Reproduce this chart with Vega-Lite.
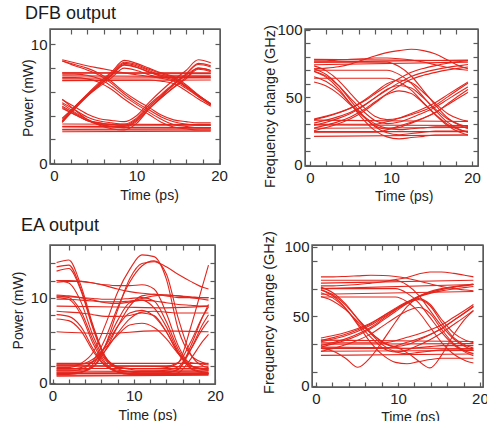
{
"$schema":"https://vega.github.io/schema/vega-lite/v6.json",
"padding":{"left":10,"top":4,"right":0,"bottom":0},
"bounds":"flush",
"spacing":216,
"config":{
"font":"Liberation Sans",
"view":{"stroke":"#5a5a5a","strokeWidth":1},
"axis":{"grid":false,"domain":false,"ticks":true,"tickColor":"#5a5a5a","tickSize":-5,"tickWidth":1.2,"labelFont":"Liberation Sans","labelFontSize":15,"labelColor":"#222222","labelPadding":8,"labelOverlap":false,"labelBound":false,"labelFlush":false,"titleFont":"Liberation Sans","titleFontSize":14,"titleFontWeight":"normal","titleColor":"#222222","titleBaseline":"alphabetic","titleAlign":"center"},
"axisBottom":{"labelPadding":9},
"title":{"font":"Liberation Sans","fontSize":18,"fontWeight":"normal","color":"#1a1a1a","anchor":"start","frame":"group","baseline":"alphabetic"}
},
"datasets":{
"dfbP":[
{"k":1,"x":1,"y":2.65},{"k":1,"x":19,"y":2.7},
{"k":2,"x":1,"y":2.85},{"k":2,"x":19,"y":2.9},
{"k":3,"x":1,"y":3.05},{"k":3,"x":19,"y":3.0},
{"k":4,"x":1,"y":3.3},{"k":4,"x":19,"y":3.25},
{"k":5,"x":1,"y":7.6},{"k":5,"x":19,"y":7.55},
{"k":6,"x":1,"y":7.35},{"k":6,"x":19,"y":7.3},
{"k":7,"x":1,"y":7.15},{"k":7,"x":19,"y":7.2},
{"k":8,"x":1,"y":6.95},{"k":8,"x":19,"y":7.0},
{"k":9,"x":1,"y":5.4},{"k":9,"x":2.5,"y":4.5},{"k":9,"x":4,"y":3.7},{"k":9,"x":5.5,"y":3.2},{"k":9,"x":7,"y":2.9},{"k":9,"x":8.5,"y":2.8},{"k":9,"x":19,"y":2.8},
{"k":10,"x":1,"y":4.6},{"k":10,"x":2.5,"y":4.1},{"k":10,"x":4,"y":3.6},{"k":10,"x":5.5,"y":3.4},{"k":10,"x":7,"y":3.25},{"k":10,"x":8.5,"y":3.2},{"k":10,"x":19,"y":3.2},
{"k":11,"x":1,"y":5.0},{"k":11,"x":2.5,"y":4.3},{"k":11,"x":4,"y":3.7},{"k":11,"x":5.5,"y":3.3},{"k":11,"x":7,"y":3.1},{"k":11,"x":8.5,"y":3.0},{"k":11,"x":19,"y":3.0},
{"k":12,"x":1,"y":5.1},{"k":12,"x":2.5,"y":4.5},{"k":12,"x":4,"y":3.9},{"k":12,"x":5.5,"y":3.55},{"k":12,"x":7,"y":3.4},{"k":12,"x":8.5,"y":3.3},{"k":12,"x":10,"y":3.8},{"k":12,"x":11.5,"y":4.9},{"k":12,"x":13,"y":5.8},{"k":12,"x":14.5,"y":6.7},{"k":12,"x":16,"y":7.5},{"k":12,"x":17.5,"y":8.3},{"k":12,"x":19,"y":8.1},
{"k":13,"x":1,"y":4.8},{"k":13,"x":2.5,"y":4.2},{"k":13,"x":4,"y":3.6},{"k":13,"x":5.5,"y":3.25},{"k":13,"x":7,"y":3.1},{"k":13,"x":8.5,"y":3.0},{"k":13,"x":10,"y":3.5},{"k":13,"x":11.5,"y":4.55},{"k":13,"x":13,"y":5.5},{"k":13,"x":14.5,"y":6.4},{"k":13,"x":16,"y":7.2},{"k":13,"x":17.5,"y":8.0},{"k":13,"x":19,"y":7.8},
{"k":14,"x":1,"y":5.35},{"k":14,"x":2.5,"y":4.75},{"k":14,"x":4,"y":4.15},{"k":14,"x":5.5,"y":3.75},{"k":14,"x":7,"y":3.6},{"k":14,"x":8.5,"y":3.5},{"k":14,"x":10,"y":4.0},{"k":14,"x":11.5,"y":5.1},{"k":14,"x":13,"y":6.1},{"k":14,"x":14.5,"y":7.0},{"k":14,"x":16,"y":7.8},{"k":14,"x":17.5,"y":8.7},{"k":14,"x":19,"y":8.45},
{"k":15,"x":1,"y":4.7},{"k":15,"x":2.5,"y":4.1},{"k":15,"x":4,"y":3.6},{"k":15,"x":5.5,"y":3.4},{"k":15,"x":7,"y":3.25},{"k":15,"x":8.5,"y":3.2},{"k":15,"x":10,"y":3.7},{"k":15,"x":11.5,"y":4.75},{"k":15,"x":13,"y":5.7},{"k":15,"x":14.5,"y":6.6},{"k":15,"x":16,"y":7.4},{"k":15,"x":17.5,"y":8.0},{"k":15,"x":19,"y":7.8},
{"k":16,"x":1,"y":2.8},{"k":16,"x":8.5,"y":2.8},{"k":16,"x":10,"y":3.35},{"k":16,"x":11.5,"y":4.55},{"k":16,"x":13,"y":5.6},{"k":16,"x":14.5,"y":6.6},{"k":16,"x":16,"y":7.5},{"k":16,"x":17.5,"y":8.4},{"k":16,"x":19,"y":8.2},
{"k":17,"x":1,"y":3.1},{"k":17,"x":8.5,"y":3.1},{"k":17,"x":10,"y":3.6},{"k":17,"x":11.5,"y":4.6},{"k":17,"x":13,"y":5.5},{"k":17,"x":14.5,"y":6.35},{"k":17,"x":16,"y":7.1},{"k":17,"x":17.5,"y":7.9},{"k":17,"x":19,"y":7.7},
{"k":18,"x":1,"y":3.55},{"k":18,"x":2.5,"y":4.7},{"k":18,"x":4,"y":5.75},{"k":18,"x":5.5,"y":6.7},{"k":18,"x":7,"y":7.6},{"k":18,"x":8.5,"y":8.5},{"k":18,"x":10,"y":8.3},{"k":18,"x":11.5,"y":7.9},{"k":18,"x":13,"y":7.6},{"k":18,"x":19,"y":7.6},
{"k":19,"x":1,"y":3.8},{"k":19,"x":2.5,"y":4.75},{"k":19,"x":4,"y":5.65},{"k":19,"x":5.5,"y":6.45},{"k":19,"x":7,"y":7.2},{"k":19,"x":8.5,"y":8.0},{"k":19,"x":10,"y":7.8},{"k":19,"x":11.5,"y":7.45},{"k":19,"x":13,"y":7.2},{"k":19,"x":19,"y":7.2},
{"k":20,"x":1,"y":3.45},{"k":20,"x":2.5,"y":4.55},{"k":20,"x":4,"y":5.6},{"k":20,"x":5.5,"y":6.55},{"k":20,"x":7,"y":7.4},{"k":20,"x":8.5,"y":8.3},{"k":20,"x":10,"y":8.1},{"k":20,"x":11.5,"y":7.7},{"k":20,"x":13,"y":7.4},{"k":20,"x":19,"y":7.4},
{"k":21,"x":1,"y":3.55},{"k":21,"x":2.5,"y":4.75},{"k":21,"x":4,"y":5.8},{"k":21,"x":5.5,"y":6.8},{"k":21,"x":7,"y":7.7},{"k":21,"x":8.5,"y":8.65},{"k":21,"x":10,"y":8.4},{"k":21,"x":11.5,"y":8.0},{"k":21,"x":13,"y":7.6},{"k":21,"x":14.5,"y":7.3},{"k":21,"x":16,"y":6.6},{"k":21,"x":17.5,"y":5.75},{"k":21,"x":19,"y":5.0},
{"k":22,"x":1,"y":3.7},{"k":22,"x":2.5,"y":4.75},{"k":22,"x":4,"y":5.7},{"k":22,"x":5.5,"y":6.6},{"k":22,"x":7,"y":7.4},{"k":22,"x":8.5,"y":8.25},{"k":22,"x":10,"y":8.05},{"k":22,"x":11.5,"y":7.65},{"k":22,"x":13,"y":7.3},{"k":22,"x":14.5,"y":7.0},{"k":22,"x":16,"y":6.45},{"k":22,"x":17.5,"y":5.7},{"k":22,"x":19,"y":5.0},
{"k":23,"x":1,"y":3.45},{"k":23,"x":2.5,"y":4.6},{"k":23,"x":4,"y":5.65},{"k":23,"x":5.5,"y":6.6},{"k":23,"x":7,"y":7.5},{"k":23,"x":8.5,"y":8.4},{"k":23,"x":10,"y":8.2},{"k":23,"x":11.5,"y":7.8},{"k":23,"x":13,"y":7.4},{"k":23,"x":14.5,"y":7.1},{"k":23,"x":16,"y":6.4},{"k":23,"x":17.5,"y":5.6},{"k":23,"x":19,"y":4.9},
{"k":24,"x":1,"y":7.5},{"k":24,"x":2.5,"y":7.5},{"k":24,"x":4,"y":7.4},{"k":24,"x":5.5,"y":7.1},{"k":24,"x":7,"y":6.45},{"k":24,"x":8.5,"y":5.65},{"k":24,"x":10,"y":4.95},{"k":24,"x":11.5,"y":4.3},{"k":24,"x":13,"y":3.7},{"k":24,"x":14.5,"y":3.25},{"k":24,"x":16,"y":3.1},{"k":24,"x":17.5,"y":3.0},{"k":24,"x":19,"y":3.0},
{"k":25,"x":1,"y":7.2},{"k":25,"x":2.5,"y":7.2},{"k":25,"x":4,"y":7.1},{"k":25,"x":5.5,"y":6.8},{"k":25,"x":7,"y":6.2},{"k":25,"x":8.5,"y":5.4},{"k":25,"x":10,"y":4.7},{"k":25,"x":11.5,"y":4.1},{"k":25,"x":13,"y":3.45},{"k":25,"x":14.5,"y":3.05},{"k":25,"x":16,"y":2.9},{"k":25,"x":17.5,"y":2.8},{"k":25,"x":19,"y":2.8},
{"k":26,"x":1,"y":8.6},{"k":26,"x":2.5,"y":8.2},{"k":26,"x":4,"y":7.85},{"k":26,"x":5.5,"y":7.4},{"k":26,"x":7,"y":6.7},{"k":26,"x":8.5,"y":5.85},{"k":26,"x":10,"y":5.1},{"k":26,"x":11.5,"y":4.5},{"k":26,"x":13,"y":3.9},{"k":26,"x":14.5,"y":3.5},{"k":26,"x":16,"y":3.3},{"k":26,"x":17.5,"y":3.2},{"k":26,"x":19,"y":3.2},
{"k":27,"x":1,"y":8.6},{"k":27,"x":2.5,"y":8.3},{"k":27,"x":4,"y":8.0},{"k":27,"x":5.5,"y":7.55},{"k":27,"x":7,"y":6.85},{"k":27,"x":8.5,"y":6.0},{"k":27,"x":10,"y":5.3},{"k":27,"x":11.5,"y":4.7},{"k":27,"x":13,"y":4.05},{"k":27,"x":14.5,"y":3.65},{"k":27,"x":16,"y":3.5},{"k":27,"x":17.5,"y":3.4},{"k":27,"x":19,"y":3.4},
{"k":28,"x":1,"y":7.6},{"k":28,"x":11.5,"y":7.6},{"k":28,"x":13,"y":7.5},{"k":28,"x":14.5,"y":7.2},{"k":28,"x":16,"y":6.5},{"k":28,"x":17.5,"y":5.7},{"k":28,"x":19,"y":5.0},
{"k":29,"x":1,"y":7.0},{"k":29,"x":11.5,"y":7.0},{"k":29,"x":13,"y":6.9},{"k":29,"x":14.5,"y":6.7},{"k":29,"x":16,"y":6.1},{"k":29,"x":17.5,"y":5.4},{"k":29,"x":19,"y":4.8},
{"k":30,"x":1,"y":8.7},{"k":30,"x":2.5,"y":8.45},{"k":30,"x":4,"y":8.2},{"k":30,"x":5.5,"y":8.0},{"k":30,"x":7,"y":7.8},{"k":30,"x":8.5,"y":7.6},{"k":30,"x":10,"y":7.45},{"k":30,"x":11.5,"y":7.3},{"k":30,"x":13,"y":7.15},{"k":30,"x":14.5,"y":6.9},{"k":30,"x":16,"y":6.3},{"k":30,"x":17.5,"y":5.6},{"k":30,"x":19,"y":4.9}
],
"dfbF":[
{"k":1,"x":0.5,"y":21},{"k":1,"x":19.5,"y":22},
{"k":2,"x":0.5,"y":24.5},{"k":2,"x":19.5,"y":24.5},
{"k":3,"x":0.5,"y":27},{"k":3,"x":19.5,"y":27.5},
{"k":4,"x":0.5,"y":29.5},{"k":4,"x":19.5,"y":29},
{"k":5,"x":0.5,"y":33},{"k":5,"x":19.5,"y":32},
{"k":6,"x":0.5,"y":74},{"k":6,"x":19.5,"y":76},
{"k":7,"x":0.5,"y":76},{"k":7,"x":19.5,"y":77.5},
{"k":8,"x":0.5,"y":78},{"k":8,"x":19.5,"y":77},
{"k":9,"x":0.5,"y":30.9},{"k":9,"x":2,"y":33.0},{"k":9,"x":3.5,"y":35.6},{"k":9,"x":5,"y":38.9},{"k":9,"x":6.5,"y":43.5},{"k":9,"x":8,"y":49.4},{"k":9,"x":9.5,"y":55.3},{"k":9,"x":11,"y":60.8},{"k":9,"x":12.5,"y":65.4},{"k":9,"x":14,"y":68.3},{"k":9,"x":15.5,"y":70.4},{"k":9,"x":17,"y":72.1},{"k":9,"x":18.5,"y":73.4},{"k":9,"x":19.5,"y":74.2},
{"k":10,"x":0.5,"y":27.1},{"k":10,"x":2,"y":29.3},{"k":10,"x":3.5,"y":31.9},{"k":10,"x":5,"y":35.4},{"k":10,"x":6.5,"y":40.3},{"k":10,"x":8,"y":46.4},{"k":10,"x":9.5,"y":52.6},{"k":10,"x":11,"y":58.3},{"k":10,"x":12.5,"y":63.2},{"k":10,"x":14,"y":66.2},{"k":10,"x":15.5,"y":68.4},{"k":10,"x":17,"y":70.2},{"k":10,"x":18.5,"y":71.5},{"k":10,"x":19.5,"y":72.4},
{"k":11,"x":0.5,"y":33.9},{"k":11,"x":2,"y":36.0},{"k":11,"x":3.5,"y":38.6},{"k":11,"x":5,"y":41.9},{"k":11,"x":6.5,"y":46.5},{"k":11,"x":8,"y":52.4},{"k":11,"x":9.5,"y":58.3},{"k":11,"x":11,"y":63.8},{"k":11,"x":12.5,"y":68.4},{"k":11,"x":14,"y":71.3},{"k":11,"x":15.5,"y":73.4},{"k":11,"x":17,"y":75.1},{"k":11,"x":18.5,"y":76.4},{"k":11,"x":19.5,"y":77.2},
{"k":12,"x":0.5,"y":69.0},{"k":12,"x":2,"y":64.7},{"k":12,"x":3.5,"y":56.6},{"k":12,"x":5,"y":45.0},{"k":12,"x":6.5,"y":34.0},{"k":12,"x":8,"y":25.4},{"k":12,"x":9.5,"y":20.6},{"k":12,"x":11,"y":19.1},{"k":12,"x":12.5,"y":20.1},{"k":12,"x":14,"y":21.0},{"k":12,"x":15.5,"y":22},{"k":12,"x":19.5,"y":22},
{"k":13,"x":0.5,"y":71.1},{"k":13,"x":2,"y":66.8},{"k":13,"x":3.5,"y":58.8},{"k":13,"x":5,"y":47.6},{"k":13,"x":6.5,"y":36.8},{"k":13,"x":8,"y":28.3},{"k":13,"x":9.5,"y":23.6},{"k":13,"x":11,"y":22.2},{"k":13,"x":12.5,"y":23.1},{"k":13,"x":14,"y":24.1},{"k":13,"x":15.5,"y":25},{"k":13,"x":19.5,"y":25},
{"k":14,"x":0.5,"y":61.3},{"k":14,"x":2,"y":58.3},{"k":14,"x":3.5,"y":52.5},{"k":14,"x":5,"y":44.3},{"k":14,"x":6.5,"y":36.5},{"k":14,"x":8,"y":30.4},{"k":14,"x":9.5,"y":27.0},{"k":14,"x":11,"y":26.0},{"k":14,"x":12.5,"y":26.6},{"k":14,"x":14,"y":27.3},{"k":14,"x":15.5,"y":28},{"k":14,"x":19.5,"y":28},
{"k":15,"x":0.5,"y":70},{"k":15,"x":9.5,"y":70},{"k":15,"x":11,"y":66.9},{"k":15,"x":12.5,"y":60.3},{"k":15,"x":14,"y":50.2},{"k":15,"x":15.5,"y":40.1},{"k":15,"x":17,"y":31.3},{"k":15,"x":18.5,"y":26},{"k":15,"x":19.5,"y":23.8},
{"k":16,"x":0.5,"y":76},{"k":16,"x":9.5,"y":76},{"k":16,"x":11,"y":72.7},{"k":16,"x":12.5,"y":65.7},{"k":16,"x":14,"y":54.9},{"k":16,"x":15.5,"y":44.0},{"k":16,"x":17,"y":34.6},{"k":16,"x":18.5,"y":29},{"k":16,"x":19.5,"y":26.7},
{"k":17,"x":0.5,"y":64},{"k":17,"x":9.5,"y":64},{"k":17,"x":11,"y":61.2},{"k":17,"x":12.5,"y":55.2},{"k":17,"x":14,"y":46.0},{"k":17,"x":15.5,"y":36.8},{"k":17,"x":17,"y":28.8},{"k":17,"x":18.5,"y":24},{"k":17,"x":19.5,"y":22},
{"k":18,"x":0.5,"y":69.2},{"k":18,"x":2,"y":65.6},{"k":18,"x":3.5,"y":58.8},{"k":18,"x":5,"y":49.2},{"k":18,"x":6.5,"y":40.0},{"k":18,"x":8,"y":32.8},{"k":18,"x":9.5,"y":30.4},{"k":18,"x":11,"y":31.6},{"k":18,"x":12.5,"y":34.8},{"k":18,"x":14,"y":38.4},{"k":18,"x":15.5,"y":42.8},{"k":18,"x":17,"y":48.4},{"k":18,"x":18.5,"y":54.0},{"k":18,"x":19.5,"y":57.6},
{"k":19,"x":0.5,"y":65.2},{"k":19,"x":2,"y":61.6},{"k":19,"x":3.5,"y":54.8},{"k":19,"x":5,"y":45.2},{"k":19,"x":6.5,"y":36.0},{"k":19,"x":8,"y":28.8},{"k":19,"x":9.5,"y":26.4},{"k":19,"x":11,"y":27.6},{"k":19,"x":12.5,"y":30.8},{"k":19,"x":14,"y":34.4},{"k":19,"x":15.5,"y":38.8},{"k":19,"x":17,"y":44.4},{"k":19,"x":18.5,"y":50.0},{"k":19,"x":19.5,"y":53.6},
{"k":20,"x":0.5,"y":73.2},{"k":20,"x":2,"y":69.5},{"k":20,"x":3.5,"y":62.5},{"k":20,"x":5,"y":52.7},{"k":20,"x":6.5,"y":43.3},{"k":20,"x":8,"y":35.9},{"k":20,"x":9.5,"y":33.4},{"k":20,"x":11,"y":34.6},{"k":20,"x":12.5,"y":37.9},{"k":20,"x":14,"y":41.6},{"k":20,"x":15.5,"y":46.1},{"k":20,"x":17,"y":51.9},{"k":20,"x":18.5,"y":57.6},{"k":20,"x":19.5,"y":61.3},
{"k":21,"x":0.5,"y":29.2},{"k":21,"x":2,"y":31.5},{"k":21,"x":3.5,"y":34.3},{"k":21,"x":5,"y":38.0},{"k":21,"x":6.5,"y":43.0},{"k":21,"x":8,"y":49.5},{"k":21,"x":9.5,"y":55.9},{"k":21,"x":11,"y":58.7},{"k":21,"x":12.5,"y":56.8},{"k":21,"x":14,"y":49.5},{"k":21,"x":15.5,"y":41.2},{"k":21,"x":17,"y":33.8},{"k":21,"x":18.5,"y":29.7},{"k":21,"x":19.5,"y":28.3},
{"k":22,"x":0.5,"y":33.2},{"k":22,"x":2,"y":35.5},{"k":22,"x":3.5,"y":38.3},{"k":22,"x":5,"y":42.0},{"k":22,"x":6.5,"y":47.0},{"k":22,"x":8,"y":53.5},{"k":22,"x":9.5,"y":59.9},{"k":22,"x":11,"y":62.7},{"k":22,"x":12.5,"y":60.8},{"k":22,"x":14,"y":53.5},{"k":22,"x":15.5,"y":45.2},{"k":22,"x":17,"y":37.8},{"k":22,"x":18.5,"y":33.7},{"k":22,"x":19.5,"y":32.3},
{"k":23,"x":0.5,"y":25.2},{"k":23,"x":2,"y":27.5},{"k":23,"x":3.5,"y":30.3},{"k":23,"x":5,"y":34.0},{"k":23,"x":6.5,"y":39.0},{"k":23,"x":8,"y":45.5},{"k":23,"x":9.5,"y":51.9},{"k":23,"x":11,"y":54.7},{"k":23,"x":12.5,"y":52.8},{"k":23,"x":14,"y":45.5},{"k":23,"x":15.5,"y":37.2},{"k":23,"x":17,"y":29.8},{"k":23,"x":18.5,"y":25.7},{"k":23,"x":19.5,"y":24.3},
{"k":24,"x":0.5,"y":24},{"k":24,"x":8,"y":24},{"k":24,"x":9.5,"y":25.8},{"k":24,"x":11,"y":28.6},{"k":24,"x":12.5,"y":31.4},{"k":24,"x":14,"y":34.6},{"k":24,"x":15.5,"y":38.7},{"k":24,"x":17,"y":45.2},{"k":24,"x":18.5,"y":51.6},{"k":24,"x":19.5,"y":55.7},
{"k":25,"x":0.5,"y":30},{"k":25,"x":8,"y":30},{"k":25,"x":9.5,"y":31.8},{"k":25,"x":11,"y":34.4},{"k":25,"x":12.5,"y":37.0},{"k":25,"x":14,"y":40.1},{"k":25,"x":15.5,"y":44.1},{"k":25,"x":17,"y":50.2},{"k":25,"x":18.5,"y":56.4},{"k":25,"x":19.5,"y":60.4},
{"k":26,"x":0.5,"y":71},{"k":26,"x":2,"y":71.5},{"k":26,"x":3.5,"y":72.5},{"k":26,"x":5,"y":74.5},{"k":26,"x":6.5,"y":77.5},{"k":26,"x":8,"y":80.5},{"k":26,"x":9.5,"y":83},{"k":26,"x":11,"y":84.5},{"k":26,"x":12.5,"y":85.5},{"k":26,"x":14,"y":84.5},{"k":26,"x":15.5,"y":82},{"k":26,"x":17,"y":77.5},{"k":26,"x":18.5,"y":73},{"k":26,"x":19.5,"y":71},
{"k":27,"x":0.5,"y":77},{"k":27,"x":2,"y":77},{"k":27,"x":3.5,"y":77.5},{"k":27,"x":5,"y":78},{"k":27,"x":6.5,"y":78.5},{"k":27,"x":8,"y":79},{"k":27,"x":9.5,"y":79},{"k":27,"x":11,"y":78.5},{"k":27,"x":12.5,"y":77.5},{"k":27,"x":14,"y":76},{"k":27,"x":15.5,"y":74},{"k":27,"x":17,"y":72},{"k":27,"x":18.5,"y":70.5},{"k":27,"x":19.5,"y":70}
],
"eaP":[
{"k":1,"x":0.5,"y":0.8},{"k":1,"x":19.2,"y":0.9},
{"k":2,"x":0.5,"y":1.1},{"k":2,"x":19.2,"y":1.1},
{"k":3,"x":0.5,"y":1.4},{"k":3,"x":19.2,"y":1.3},
{"k":4,"x":0.5,"y":1.7},{"k":4,"x":19.2,"y":1.7},
{"k":5,"x":0.5,"y":2.0},{"k":5,"x":19.2,"y":1.9},
{"k":6,"x":0.5,"y":2.3},{"k":6,"x":19.2,"y":2.3},
{"k":7,"x":0.5,"y":11.8},{"k":7,"x":2,"y":11.9},{"k":7,"x":3.5,"y":11.9},{"k":7,"x":5,"y":11.7},{"k":7,"x":6.5,"y":11.4},{"k":7,"x":8,"y":11.0},{"k":7,"x":9.5,"y":10.7},{"k":7,"x":11,"y":10.5},{"k":7,"x":12.5,"y":10.4},{"k":7,"x":14,"y":10.3},{"k":7,"x":15.5,"y":10.2},{"k":7,"x":17,"y":10.1},{"k":7,"x":18.5,"y":10.0},{"k":7,"x":19.2,"y":10.0},
{"k":8,"x":0.5,"y":10.3},{"k":8,"x":2,"y":10.2},{"k":8,"x":3.5,"y":10.0},{"k":8,"x":5,"y":9.7},{"k":8,"x":6.5,"y":9.4},{"k":8,"x":8,"y":9.3},{"k":8,"x":9.5,"y":9.5},{"k":8,"x":11,"y":9.9},{"k":8,"x":12.5,"y":10.2},{"k":8,"x":14,"y":10.3},{"k":8,"x":15.5,"y":10.2},{"k":8,"x":17,"y":10.0},{"k":8,"x":18.5,"y":9.8},{"k":8,"x":19.2,"y":9.7},
{"k":9,"x":0.5,"y":9.8},{"k":9,"x":2,"y":9.8},{"k":9,"x":3.5,"y":9.7},{"k":9,"x":5,"y":9.6},{"k":9,"x":6.5,"y":9.5},{"k":9,"x":8,"y":9.5},{"k":9,"x":9.5,"y":9.6},{"k":9,"x":11,"y":9.7},{"k":9,"x":12.5,"y":9.6},{"k":9,"x":14,"y":9.4},{"k":9,"x":15.5,"y":9.2},{"k":9,"x":17,"y":9.1},{"k":9,"x":18.5,"y":9.0},{"k":9,"x":19.2,"y":9.0},
{"k":10,"x":0.5,"y":9.0},{"k":10,"x":8,"y":8.9},{"k":10,"x":14,"y":8.8},{"k":10,"x":19.2,"y":9.0},
{"k":11,"x":0.5,"y":6.0},{"k":11,"x":6.5,"y":5.8},{"k":11,"x":12.5,"y":6.1},{"k":11,"x":19.2,"y":6.0},
{"k":12,"x":0.5,"y":14.1},{"k":12,"x":2,"y":14.4},{"k":12,"x":3.5,"y":11.4},{"k":12,"x":5,"y":6.7},{"k":12,"x":6.5,"y":3.1},{"k":12,"x":8,"y":1.9},{"k":12,"x":9.5,"y":1.6},{"k":12,"x":11,"y":1.5},{"k":12,"x":19.2,"y":1.5},
{"k":13,"x":0.5,"y":13.1},{"k":13,"x":2,"y":13.4},{"k":13,"x":3.5,"y":10.8},{"k":13,"x":5,"y":6.3},{"k":13,"x":6.5,"y":2.9},{"k":13,"x":8,"y":1.7},{"k":13,"x":9.5,"y":1.3},{"k":13,"x":11,"y":1.2},{"k":13,"x":19.2,"y":1.2},
{"k":14,"x":0.5,"y":10.2},{"k":14,"x":2,"y":10.0},{"k":14,"x":3.5,"y":8.4},{"k":14,"x":5,"y":5.0},{"k":14,"x":6.5,"y":2.4},{"k":14,"x":8,"y":1.3},{"k":14,"x":9.5,"y":1.0},{"k":14,"x":11,"y":1.0},{"k":14,"x":19.2,"y":1.0},
{"k":15,"x":0.5,"y":8.0},{"k":15,"x":2,"y":7.8},{"k":15,"x":3.5,"y":6.6},{"k":15,"x":5,"y":4.0},{"k":15,"x":6.5,"y":2.0},{"k":15,"x":8,"y":1.3},{"k":15,"x":9.5,"y":1.1},{"k":15,"x":11,"y":1.1},{"k":15,"x":19.2,"y":1.1},
{"k":16,"x":0.5,"y":12.0},{"k":16,"x":2,"y":11.7},{"k":16,"x":3.5,"y":9.5},{"k":16,"x":5,"y":5.5},{"k":16,"x":6.5,"y":2.7},{"k":16,"x":8,"y":1.8},{"k":16,"x":9.5,"y":1.7},{"k":16,"x":11,"y":1.7},{"k":16,"x":19.2,"y":1.7},
{"k":17,"x":0.5,"y":10.0},{"k":17,"x":2,"y":9.8},{"k":17,"x":3.5,"y":8.0},{"k":17,"x":5,"y":4.6},{"k":17,"x":6.5,"y":2.2},{"k":17,"x":8,"y":1.3},{"k":17,"x":9.5,"y":1.1},{"k":17,"x":11,"y":1.1},{"k":17,"x":12.5,"y":1.1},{"k":17,"x":14,"y":1.2},{"k":17,"x":15.5,"y":1.6},{"k":17,"x":17,"y":4.3},{"k":17,"x":18.5,"y":7.8},{"k":17,"x":19.2,"y":9.2},
{"k":18,"x":0.5,"y":7.5},{"k":18,"x":2,"y":7.3},{"k":18,"x":3.5,"y":6.1},{"k":18,"x":5,"y":3.7},{"k":18,"x":6.5,"y":2.0},{"k":18,"x":8,"y":1.5},{"k":18,"x":9.5,"y":1.4},{"k":18,"x":11,"y":1.4},{"k":18,"x":12.5,"y":1.4},{"k":18,"x":14,"y":1.5},{"k":18,"x":15.5,"y":1.9},{"k":18,"x":17,"y":3.9},{"k":18,"x":18.5,"y":6.4},{"k":18,"x":19.2,"y":7.3},
{"k":19,"x":0.5,"y":13.6},{"k":19,"x":2,"y":13.8},{"k":19,"x":3.5,"y":11.0},{"k":19,"x":5,"y":6.5},{"k":19,"x":6.5,"y":3.0},{"k":19,"x":8,"y":1.9},{"k":19,"x":9.5,"y":1.7},{"k":19,"x":11,"y":1.7},{"k":19,"x":12.5,"y":1.7},{"k":19,"x":14,"y":1.8},{"k":19,"x":15.5,"y":2.4},{"k":19,"x":17,"y":6.5},{"k":19,"x":18.5,"y":11.5},{"k":19,"x":19.2,"y":13.8},
{"k":20,"x":0.5,"y":2.0},{"k":20,"x":14,"y":2.0},{"k":20,"x":15.5,"y":2.4},{"k":20,"x":17,"y":4.8},{"k":20,"x":18.5,"y":7.8},{"k":20,"x":19.2,"y":8.9},
{"k":21,"x":0.5,"y":1.2},{"k":21,"x":14,"y":1.2},{"k":21,"x":15.5,"y":1.6},{"k":21,"x":17,"y":3.9},{"k":21,"x":18.5,"y":6.9},{"k":21,"x":19.2,"y":8.0},
{"k":22,"x":0.5,"y":0.9},{"k":22,"x":14,"y":0.9},{"k":22,"x":15.5,"y":1.2},{"k":22,"x":17,"y":2.8},{"k":22,"x":18.5,"y":4.9},{"k":22,"x":19.2,"y":5.7},
{"k":23,"x":0.5,"y":1.5},{"k":23,"x":3.5,"y":1.5},{"k":23,"x":5,"y":1.9},{"k":23,"x":6.5,"y":3.8},{"k":23,"x":8,"y":6.6},{"k":23,"x":9.5,"y":9.0},{"k":23,"x":11,"y":10.2},{"k":23,"x":12.5,"y":10.4},{"k":23,"x":14,"y":10.2},{"k":23,"x":15.5,"y":10.0},{"k":23,"x":19.2,"y":10.0},
{"k":24,"x":0.5,"y":1.2},{"k":24,"x":2,"y":1.2},{"k":24,"x":3.5,"y":1.3},{"k":24,"x":5,"y":1.9},{"k":24,"x":6.5,"y":4.4},{"k":24,"x":8,"y":8.5},{"k":24,"x":9.5,"y":12.2},{"k":24,"x":11,"y":14.0},{"k":24,"x":12.5,"y":14.2},{"k":24,"x":14,"y":13.6},{"k":24,"x":15.5,"y":12.7},{"k":24,"x":17,"y":11.9},{"k":24,"x":18.5,"y":11.2},{"k":24,"x":19.2,"y":11.0},
{"k":25,"x":0.5,"y":2.2},{"k":25,"x":3.5,"y":2.2},{"k":25,"x":5,"y":2.5},{"k":25,"x":6.5,"y":3.8},{"k":25,"x":8,"y":5.8},{"k":25,"x":9.5,"y":7.5},{"k":25,"x":11,"y":8.3},{"k":25,"x":12.5,"y":8.4},{"k":25,"x":14,"y":8.3},{"k":25,"x":15.5,"y":8.2},{"k":25,"x":19.2,"y":8.2},
{"k":26,"x":0.5,"y":1.8},{"k":26,"x":2,"y":1.8},{"k":26,"x":3.5,"y":2.3},{"k":26,"x":5,"y":3.6},{"k":26,"x":6.5,"y":6.8},{"k":26,"x":8,"y":10.6},{"k":26,"x":9.5,"y":13.3},{"k":26,"x":11,"y":15.0},{"k":26,"x":12.5,"y":14.8},{"k":26,"x":14,"y":12.2},{"k":26,"x":15.5,"y":6.2},{"k":26,"x":17,"y":3.3},{"k":26,"x":18.5,"y":2.4},{"k":26,"x":19.2,"y":2.2},
{"k":27,"x":0.5,"y":1.4},{"k":27,"x":2,"y":1.4},{"k":27,"x":3.5,"y":1.6},{"k":27,"x":5,"y":2.6},{"k":27,"x":6.5,"y":5.2},{"k":27,"x":8,"y":8.8},{"k":27,"x":9.5,"y":11.8},{"k":27,"x":11,"y":13.7},{"k":27,"x":12.5,"y":14.3},{"k":27,"x":14,"y":12.8},{"k":27,"x":15.5,"y":7.5},{"k":27,"x":17,"y":3.4},{"k":27,"x":18.5,"y":2.0},{"k":27,"x":19.2,"y":1.8},
{"k":28,"x":0.5,"y":1.0},{"k":28,"x":2,"y":1.0},{"k":28,"x":3.5,"y":1.2},{"k":28,"x":5,"y":2.2},{"k":28,"x":6.5,"y":4.4},{"k":28,"x":8,"y":7.3},{"k":28,"x":9.5,"y":9.4},{"k":28,"x":11,"y":9.7},{"k":28,"x":12.5,"y":8.8},{"k":28,"x":14,"y":6.6},{"k":28,"x":15.5,"y":3.6},{"k":28,"x":17,"y":1.8},{"k":28,"x":18.5,"y":1.3},{"k":28,"x":19.2,"y":1.2},
{"k":29,"x":0.5,"y":1.6},{"k":29,"x":2,"y":1.6},{"k":29,"x":3.5,"y":1.8},{"k":29,"x":5,"y":2.5},{"k":29,"x":6.5,"y":4.3},{"k":29,"x":8,"y":6.6},{"k":29,"x":9.5,"y":8.2},{"k":29,"x":11,"y":8.5},{"k":29,"x":12.5,"y":7.8},{"k":29,"x":14,"y":6.0},{"k":29,"x":15.5,"y":3.5},{"k":29,"x":17,"y":2.0},{"k":29,"x":18.5,"y":1.7},{"k":29,"x":19.2,"y":1.6},
{"k":30,"x":0.5,"y":2.1},{"k":30,"x":2,"y":2.1},{"k":30,"x":3.5,"y":2.2},{"k":30,"x":5,"y":2.8},{"k":30,"x":6.5,"y":4.1},{"k":30,"x":8,"y":5.6},{"k":30,"x":9.5,"y":6.8},{"k":30,"x":11,"y":7.0},{"k":30,"x":12.5,"y":6.5},{"k":30,"x":14,"y":5.2},{"k":30,"x":15.5,"y":3.4},{"k":30,"x":17,"y":2.4},{"k":30,"x":18.5,"y":2.2},{"k":30,"x":19.2,"y":2.1},
{"k":31,"x":0.5,"y":10.1},{"k":31,"x":2,"y":10.1},{"k":31,"x":3.5,"y":10.0},{"k":31,"x":5,"y":9.9},{"k":31,"x":6.5,"y":9.8},{"k":31,"x":8,"y":9.8},{"k":31,"x":9.5,"y":9.9},{"k":31,"x":11,"y":10.0},{"k":31,"x":12.5,"y":9.6},{"k":31,"x":14,"y":7.2},{"k":31,"x":15.5,"y":3.9},{"k":31,"x":17,"y":2.0},{"k":31,"x":18.5,"y":1.6},{"k":31,"x":19.2,"y":1.5},
{"k":32,"x":0.5,"y":12.0},{"k":32,"x":2,"y":12.0},{"k":32,"x":3.5,"y":11.9},{"k":32,"x":5,"y":11.7},{"k":32,"x":6.5,"y":11.5},{"k":32,"x":8,"y":11.4},{"k":32,"x":9.5,"y":11.4},{"k":32,"x":11,"y":11.5},{"k":32,"x":12.5,"y":11.0},{"k":32,"x":14,"y":8.2},{"k":32,"x":15.5,"y":4.3},{"k":32,"x":17,"y":2.1},{"k":32,"x":18.5,"y":1.6},{"k":32,"x":19.2,"y":1.5},
{"k":33,"x":0.5,"y":8.4},{"k":33,"x":2,"y":8.3},{"k":33,"x":3.5,"y":8.2},{"k":33,"x":5,"y":8.0},{"k":33,"x":6.5,"y":7.8},{"k":33,"x":8,"y":7.8},{"k":33,"x":9.5,"y":7.9},{"k":33,"x":11,"y":8.2},{"k":33,"x":12.5,"y":7.9},{"k":33,"x":14,"y":6.0},{"k":33,"x":15.5,"y":3.4},{"k":33,"x":17,"y":1.7},{"k":33,"x":18.5,"y":1.2},{"k":33,"x":19.2,"y":1.1}
],
"eaF":[
{"k":1,"x":0.6,"y":22},{"k":1,"x":19.2,"y":23},
{"k":2,"x":0.6,"y":25},{"k":2,"x":19.2,"y":25.5},
{"k":3,"x":0.6,"y":27.5},{"k":3,"x":19.2,"y":27},
{"k":4,"x":0.6,"y":30},{"k":4,"x":19.2,"y":30.5},
{"k":5,"x":0.6,"y":33},{"k":5,"x":19.2,"y":32},
{"k":6,"x":0.6,"y":70},{"k":6,"x":19.2,"y":73},
{"k":7,"x":0.6,"y":74},{"k":7,"x":19.2,"y":76},
{"k":8,"x":0.6,"y":66},{"k":8,"x":19.2,"y":68},
{"k":9,"x":0.6,"y":31.8},{"k":9,"x":2.1,"y":33.8},{"k":9,"x":3.6,"y":36.2},{"k":9,"x":5.1,"y":39.4},{"k":9,"x":6.7,"y":43.8},{"k":9,"x":8.2,"y":49.4},{"k":9,"x":9.7,"y":55.0},{"k":9,"x":11.1,"y":60.2},{"k":9,"x":12.5,"y":64.6},{"k":9,"x":13.9,"y":67.4},{"k":9,"x":15.3,"y":69.4},{"k":9,"x":16.8,"y":71.0},{"k":9,"x":18.3,"y":72.2},{"k":9,"x":19.2,"y":73.0},
{"k":10,"x":0.6,"y":28.1},{"k":10,"x":2.1,"y":30.3},{"k":10,"x":3.6,"y":32.9},{"k":10,"x":5.1,"y":36.4},{"k":10,"x":6.7,"y":41.3},{"k":10,"x":8.2,"y":47.4},{"k":10,"x":9.7,"y":53.6},{"k":10,"x":11.1,"y":59.3},{"k":10,"x":12.5,"y":64.2},{"k":10,"x":13.9,"y":67.2},{"k":10,"x":15.3,"y":69.4},{"k":10,"x":16.8,"y":71.2},{"k":10,"x":18.3,"y":72.5},{"k":10,"x":19.2,"y":73.4},
{"k":11,"x":0.6,"y":34.5},{"k":11,"x":2.1,"y":36.3},{"k":11,"x":3.6,"y":38.5},{"k":11,"x":5.1,"y":41.4},{"k":11,"x":6.7,"y":45.3},{"k":11,"x":8.2,"y":50.4},{"k":11,"x":9.7,"y":55.4},{"k":11,"x":11.1,"y":60.1},{"k":11,"x":12.5,"y":64.0},{"k":11,"x":13.9,"y":66.6},{"k":11,"x":15.3,"y":68.4},{"k":11,"x":16.8,"y":69.8},{"k":11,"x":18.3,"y":70.9},{"k":11,"x":19.2,"y":71.6},
{"k":12,"x":0.6,"y":69.0},{"k":12,"x":2.1,"y":64.5},{"k":12,"x":3.6,"y":56.0},{"k":12,"x":5.1,"y":44.0},{"k":12,"x":6.7,"y":31.0},{"k":12,"x":8.2,"y":22.0},{"k":12,"x":9.7,"y":17.0},{"k":12,"x":11.1,"y":16.0},{"k":12,"x":12.5,"y":17.5},{"k":12,"x":13.9,"y":19.0},{"k":12,"x":15.3,"y":20.0},{"k":12,"x":19.2,"y":20},
{"k":13,"x":0.6,"y":71.1},{"k":13,"x":2.1,"y":66.9},{"k":13,"x":3.6,"y":59.1},{"k":13,"x":5.1,"y":48.1},{"k":13,"x":6.7,"y":37.5},{"k":13,"x":8.2,"y":29.2},{"k":13,"x":9.7,"y":24.6},{"k":13,"x":11.1,"y":23.2},{"k":13,"x":12.5,"y":24.2},{"k":13,"x":13.9,"y":25.1},{"k":13,"x":15.3,"y":26},{"k":13,"x":19.2,"y":26},
{"k":14,"x":0.6,"y":64.3},{"k":14,"x":2.1,"y":61.0},{"k":14,"x":3.6,"y":54.9},{"k":14,"x":5.1,"y":46.3},{"k":14,"x":6.7,"y":38.0},{"k":14,"x":8.2,"y":31.5},{"k":14,"x":9.7,"y":27.9},{"k":14,"x":11.1,"y":26.8},{"k":14,"x":12.5,"y":27.6},{"k":14,"x":13.9,"y":28.3},{"k":14,"x":15.3,"y":29},{"k":14,"x":19.2,"y":29},
{"k":15,"x":0.6,"y":70},{"k":15,"x":9.7,"y":70},{"k":15,"x":11.1,"y":66.8},{"k":15,"x":12.5,"y":59.9},{"k":15,"x":13.9,"y":49.3},{"k":15,"x":15.3,"y":38.7},{"k":15,"x":16.8,"y":29.5},{"k":15,"x":18.3,"y":24},{"k":15,"x":19.2,"y":21.7},
{"k":16,"x":0.6,"y":76},{"k":16,"x":9.7,"y":76},{"k":16,"x":11.1,"y":72.6},{"k":16,"x":12.5,"y":65.4},{"k":16,"x":13.9,"y":54.4},{"k":16,"x":15.3,"y":43.4},{"k":16,"x":16.8,"y":33.8},{"k":16,"x":18.3,"y":28},{"k":16,"x":19.2,"y":25.6},
{"k":17,"x":0.6,"y":64},{"k":17,"x":9.7,"y":64},{"k":17,"x":11.1,"y":60.6},{"k":17,"x":12.5,"y":53.4},{"k":17,"x":13.9,"y":42.4},{"k":17,"x":15.3,"y":31.4},{"k":17,"x":16.8,"y":22.8},{"k":17,"x":18.3,"y":18},{"k":17,"x":19.2,"y":16.5},
{"k":18,"x":0.6,"y":27},{"k":18,"x":2.1,"y":25},{"k":18,"x":3.6,"y":20},{"k":18,"x":5.1,"y":13.5},{"k":18,"x":6.7,"y":21},{"k":18,"x":8.2,"y":33},{"k":18,"x":9.7,"y":46},{"k":18,"x":11.1,"y":57},{"k":18,"x":12.5,"y":64},{"k":18,"x":13.9,"y":68},{"k":18,"x":15.3,"y":70},{"k":18,"x":16.8,"y":71.5},{"k":18,"x":18.3,"y":72.5},{"k":18,"x":19.2,"y":73},
{"k":19,"x":0.6,"y":28},{"k":19,"x":9.7,"y":27.5},{"k":19,"x":11.1,"y":24},{"k":19,"x":12.5,"y":18},{"k":19,"x":13.9,"y":13},{"k":19,"x":15.3,"y":22},{"k":19,"x":16.8,"y":37},{"k":19,"x":18.3,"y":49},{"k":19,"x":19.2,"y":54},
{"k":20,"x":0.6,"y":29.1},{"k":20,"x":2.1,"y":31.3},{"k":20,"x":3.6,"y":33.9},{"k":20,"x":5.1,"y":37.4},{"k":20,"x":6.7,"y":42.3},{"k":20,"x":8.2,"y":48.4},{"k":20,"x":9.7,"y":54.6},{"k":20,"x":11.1,"y":59.4},{"k":20,"x":12.5,"y":62.1},{"k":20,"x":13.9,"y":57.7},{"k":20,"x":15.3,"y":45.8},{"k":20,"x":16.8,"y":34.8},{"k":20,"x":18.3,"y":29.1},{"k":20,"x":19.2,"y":27.3},
{"k":21,"x":0.6,"y":32.8},{"k":21,"x":2.1,"y":34.8},{"k":21,"x":3.6,"y":37.2},{"k":21,"x":5.1,"y":40.4},{"k":21,"x":6.7,"y":44.8},{"k":21,"x":8.2,"y":50.4},{"k":21,"x":9.7,"y":56.0},{"k":21,"x":11.1,"y":60.4},{"k":21,"x":12.5,"y":62.8},{"k":21,"x":13.9,"y":58.8},{"k":21,"x":15.3,"y":48.0},{"k":21,"x":16.8,"y":38.0},{"k":21,"x":18.3,"y":32.8},{"k":21,"x":19.2,"y":31.2},
{"k":22,"x":0.6,"y":24.9},{"k":22,"x":2.1,"y":27.0},{"k":22,"x":3.6,"y":29.6},{"k":22,"x":5.1,"y":32.9},{"k":22,"x":6.7,"y":37.5},{"k":22,"x":8.2,"y":43.4},{"k":22,"x":9.7,"y":49.3},{"k":22,"x":11.1,"y":53.9},{"k":22,"x":12.5,"y":56.4},{"k":22,"x":13.9,"y":52.2},{"k":22,"x":15.3,"y":40.9},{"k":22,"x":16.8,"y":30.4},{"k":22,"x":18.3,"y":24.9},{"k":22,"x":19.2,"y":23.3},
{"k":23,"x":0.6,"y":69.2},{"k":23,"x":2.1,"y":65.4},{"k":23,"x":3.6,"y":58.2},{"k":23,"x":5.1,"y":48.2},{"k":23,"x":6.7,"y":38.5},{"k":23,"x":8.2,"y":30.9},{"k":23,"x":9.7,"y":28.4},{"k":23,"x":11.1,"y":29.7},{"k":23,"x":12.5,"y":33.0},{"k":23,"x":13.9,"y":36.8},{"k":23,"x":15.3,"y":41.4},{"k":23,"x":16.8,"y":47.3},{"k":23,"x":18.3,"y":53.2},{"k":23,"x":19.2,"y":57.0},
{"k":24,"x":0.6,"y":67.1},{"k":24,"x":2.1,"y":63.2},{"k":24,"x":3.6,"y":55.7},{"k":24,"x":5.1,"y":45.1},{"k":24,"x":6.7,"y":35.0},{"k":24,"x":8.2,"y":27.1},{"k":24,"x":9.7,"y":24.4},{"k":24,"x":11.1,"y":25.8},{"k":24,"x":12.5,"y":29.3},{"k":24,"x":13.9,"y":33.2},{"k":24,"x":15.3,"y":38.1},{"k":24,"x":16.8,"y":44.2},{"k":24,"x":18.3,"y":50.4},{"k":24,"x":19.2,"y":54.4},
{"k":25,"x":0.6,"y":27},{"k":25,"x":8.2,"y":27},{"k":25,"x":9.7,"y":28.8},{"k":25,"x":11.1,"y":31.4},{"k":25,"x":12.5,"y":34.0},{"k":25,"x":13.9,"y":37.1},{"k":25,"x":15.3,"y":41.1},{"k":25,"x":16.8,"y":47.2},{"k":25,"x":18.3,"y":53.4},{"k":25,"x":19.2,"y":57.4},
{"k":26,"x":0.6,"y":31},{"k":26,"x":8.2,"y":31},{"k":26,"x":9.7,"y":32.6},{"k":26,"x":11.1,"y":35.0},{"k":26,"x":12.5,"y":37.4},{"k":26,"x":13.9,"y":40.2},{"k":26,"x":15.3,"y":43.8},{"k":26,"x":16.8,"y":49.4},{"k":26,"x":18.3,"y":55.0},{"k":26,"x":19.2,"y":58.6},
{"k":27,"x":0.6,"y":72},{"k":27,"x":2.1,"y":72},{"k":27,"x":3.6,"y":72.5},{"k":27,"x":5.1,"y":73},{"k":27,"x":6.7,"y":74},{"k":27,"x":8.2,"y":75},{"k":27,"x":9.7,"y":76.5},{"k":27,"x":11.1,"y":78},{"k":27,"x":12.5,"y":80.5},{"k":27,"x":13.9,"y":82},{"k":27,"x":15.3,"y":82},{"k":27,"x":16.8,"y":81},{"k":27,"x":18.3,"y":79.5},{"k":27,"x":19.2,"y":78.5},
{"k":28,"x":0.6,"y":78.5},{"k":28,"x":2.1,"y":78.5},{"k":28,"x":3.6,"y":78.8},{"k":28,"x":5.1,"y":79.2},{"k":28,"x":6.7,"y":79.6},{"k":28,"x":8.2,"y":79.5},{"k":28,"x":9.7,"y":78.8},{"k":28,"x":11.1,"y":77.5},{"k":28,"x":12.5,"y":75.5},{"k":28,"x":13.9,"y":73.5},{"k":28,"x":15.3,"y":71.5},{"k":28,"x":16.8,"y":70},{"k":28,"x":18.3,"y":69},{"k":28,"x":19.2,"y":68.5}
]
},
"vconcat":[
{"hconcat":[
{"title":{"text":"DFB output","fontSize":18,"dx":-25,"offset":5},
"width":170,"height":135,
"data":{"name":"dfbP"},
"resolve":{"scale":{"x":"independent","y":"independent"}},
"layer":[
{"mark":{"type":"line","interpolate":"monotone","color":"#e3261d","strokeWidth":1.1},
"encoding":{
"detail":{"field":"k","type":"nominal"},
"x":{"field":"x","type":"quantitative","scale":{"domain":[-0.485,20.12],"nice":false,"zero":false},"axis":{"orient":"bottom","values":[0,2,4,6,8,10,12,14,16,18,20],"labelExpr":"datum.value % 10 === 0 ? datum.label : ''","title":"Time (ps)","titleX":99,"titleY":35}},
"y":{"field":"y","type":"quantitative","scale":{"domain":[-0.06,11.29],"nice":false,"zero":false},"axis":{"orient":"left","values":[0,2,4,6,8,10],"labelExpr":"datum.value % 10 === 0 ? datum.label : ''","title":"Power (mW)","titleX":-18,"titleY":68.7,"titleAngle":-90}}
}},
{"mark":{"type":"line","opacity":0},
"encoding":{
"x":{"field":"x","type":"quantitative","scale":{"domain":[-0.485,20.12],"nice":false,"zero":false},"axis":{"orient":"top","values":[2,4,6,8,10,12,14,16,18],"labels":false,"title":null}},
"y":{"field":"y","type":"quantitative","scale":{"domain":[-0.06,11.29],"nice":false,"zero":false},"axis":{"orient":"right","values":[2,4,6,8,10],"labels":false,"title":null}}
}},
{"data":{"values":[{}]},
"mark":{"type":"rect","fill":null,"fillOpacity":0,"stroke":"#5a5a5a","strokeWidth":1.4},
"encoding":{
"x":{"datum":-0.485,"type":"quantitative","scale":{"domain":[-0.485,20.12],"nice":false,"zero":false},"axis":null},
"x2":{"datum":20.12},
"y":{"datum":-0.06,"type":"quantitative","scale":{"domain":[-0.06,11.29],"nice":false,"zero":false},"axis":null},
"y2":{"datum":11.29}
}}
]},
{"width":173,"height":137,
"data":{"name":"dfbF"},
"resolve":{"scale":{"x":"independent","y":"independent"}},
"layer":[
{"mark":{"type":"line","interpolate":"monotone","color":"#e3261d","strokeWidth":1.1},
"encoding":{
"detail":{"field":"k","type":"nominal"},
"x":{"field":"x","type":"quantitative","scale":{"domain":[-0.62,20.74],"nice":false,"zero":false},"axis":{"orient":"bottom","values":[0,2,4,6,8,10,12,14,16,18,20],"labelExpr":"datum.value % 10 === 0 ? datum.label : ''","title":"Time (ps)","titleX":98.7,"titleY":34}},
"y":{"field":"y","type":"quantitative","scale":{"domain":[-0.96,100.5],"nice":false,"zero":false},"axis":{"orient":"left","values":[0,10,20,30,40,50,60,70,80,90,100],"labelExpr":"datum.value % 50 === 0 ? datum.label : ''","title":"Frequency change (GHz)","titleFontSize":14.5,"titleX":-30.5,"titleY":77,"titleAngle":-90}}
}},
{"mark":{"type":"line","opacity":0},
"encoding":{
"x":{"field":"x","type":"quantitative","scale":{"domain":[-0.62,20.74],"nice":false,"zero":false},"axis":{"orient":"top","values":[2,4,6,8,10,12,14,16,18],"labels":false,"title":null}},
"y":{"field":"y","type":"quantitative","scale":{"domain":[-0.96,100.5],"nice":false,"zero":false},"axis":{"orient":"right","values":[10,20,30,40,50,60,70,80,90],"labels":false,"title":null}}
}},
{"data":{"values":[{}]},
"mark":{"type":"rect","fill":null,"fillOpacity":0,"stroke":"#5a5a5a","strokeWidth":1.4},
"encoding":{
"x":{"datum":-0.62,"type":"quantitative","scale":{"domain":[-0.62,20.74],"nice":false,"zero":false},"axis":null},
"x2":{"datum":20.74},
"y":{"datum":-0.96,"type":"quantitative","scale":{"domain":[-0.96,100.5],"nice":false,"zero":false},"axis":null},
"y2":{"datum":100.5}
}}
]}
],"bounds":"flush","spacing":85},
{"hconcat":[
{"title":{"text":"EA output","fontSize":18,"dx":-29,"offset":9},
"width":165,"height":139,
"data":{"name":"eaP"},
"resolve":{"scale":{"x":"independent","y":"independent"}},
"layer":[
{"mark":{"type":"line","interpolate":"monotone","color":"#e3261d","strokeWidth":1.1},
"encoding":{
"detail":{"field":"k","type":"nominal"},
"x":{"field":"x","type":"quantitative","scale":{"domain":[-0.31,20.0],"nice":false,"zero":false},"axis":{"orient":"bottom","values":[0,2,4,6,8,10,12,14,16,18,20],"labelExpr":"datum.value % 10 === 0 ? datum.label : ''","title":"Time (ps)","titleX":97.3,"titleY":35}},
"y":{"field":"y","type":"quantitative","scale":{"domain":[-0.12,16.16],"nice":false,"zero":false},"axis":{"orient":"left","values":[0,2,4,6,8,10,12,14],"labelExpr":"datum.value % 10 === 0 ? datum.label : ''","title":"Power (mW)","titleX":-27.5,"titleY":65,"titleAngle":-90}}
}},
{"mark":{"type":"line","opacity":0},
"encoding":{
"x":{"field":"x","type":"quantitative","scale":{"domain":[-0.31,20.0],"nice":false,"zero":false},"axis":{"orient":"top","values":[2,4,6,8,10,12,14,16,18],"labels":false,"title":null}},
"y":{"field":"y","type":"quantitative","scale":{"domain":[-0.12,16.16],"nice":false,"zero":false},"axis":{"orient":"right","values":[2,4,6,8,10,12,14],"labels":false,"title":null}}
}},
{"data":{"values":[{}]},
"mark":{"type":"rect","fill":null,"fillOpacity":0,"stroke":"#5a5a5a","strokeWidth":1.4},
"encoding":{
"x":{"datum":-0.31,"type":"quantitative","scale":{"domain":[-0.31,20.0],"nice":false,"zero":false},"axis":null},
"x2":{"datum":20.0},
"y":{"datum":-0.12,"type":"quantitative","scale":{"domain":[-0.12,16.16],"nice":false,"zero":false},"axis":null},
"y2":{"datum":16.16}
}}
]},
{"width":171,"height":142,
"data":{"name":"eaF"},
"resolve":{"scale":{"x":"independent","y":"independent"}},
"layer":[
{"mark":{"type":"line","interpolate":"monotone","color":"#e3261d","strokeWidth":1.1},
"encoding":{
"detail":{"field":"k","type":"nominal"},
"x":{"field":"x","type":"quantitative","scale":{"domain":[-0.49,20.37],"nice":false,"zero":false},"axis":{"orient":"bottom","values":[0,2,4,6,8,10,12,14,16,18,20],"labelExpr":"datum.value % 10 === 0 ? datum.label : ''","title":"Time (ps)","titleX":98,"titleY":34}},
"y":{"field":"y","type":"quantitative","scale":{"domain":[-0.72,101.4],"nice":false,"zero":false},"axis":{"orient":"left","values":[0,10,30,50,70,90,100],"labelExpr":"datum.value % 50 === 0 ? datum.label : ''","title":"Frequency change (GHz)","titleFontSize":14.5,"titleX":-39,"titleY":67,"titleAngle":-90}}
}},
{"mark":{"type":"line","opacity":0},
"encoding":{
"x":{"field":"x","type":"quantitative","scale":{"domain":[-0.49,20.37],"nice":false,"zero":false},"axis":{"orient":"top","values":[2,4,6,8,10,12,14,16,18],"labels":false,"title":null}},
"y":{"field":"y","type":"quantitative","scale":{"domain":[-0.72,101.4],"nice":false,"zero":false},"axis":{"orient":"right","values":[10,30,50,70,90],"labels":false,"title":null}}
}},
{"data":{"values":[{}]},
"mark":{"type":"rect","fill":null,"fillOpacity":0,"stroke":"#5a5a5a","strokeWidth":1.4},
"encoding":{
"x":{"datum":-0.49,"type":"quantitative","scale":{"domain":[-0.49,20.37],"nice":false,"zero":false},"axis":null},
"x2":{"datum":20.37},
"y":{"datum":-0.72,"type":"quantitative","scale":{"domain":[-0.72,101.4],"nice":false,"zero":false},"axis":null},
"y2":{"datum":101.4}
}}
]}
],"bounds":"flush","spacing":97}
]
}
